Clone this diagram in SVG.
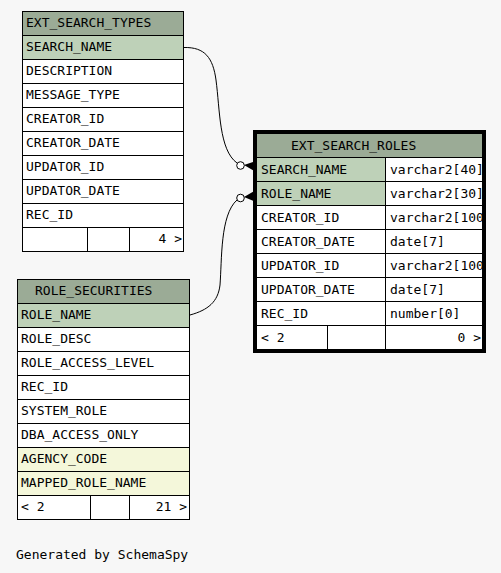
<svg xmlns="http://www.w3.org/2000/svg" width="501" height="573" viewBox="0 0 501 573">
<style>
text{font-family:"DejaVu Sans Mono","Liberation Mono",monospace;font-size:13px;fill:#000}
.hdr{fill:#9bab96}
.key{fill:#bed1b8}
.idx{fill:#f4f7da}
.col{fill:#ffffff}
.ln{stroke:#000;stroke-width:1;fill:none}
.end{text-anchor:end}
.edge{stroke:#000;stroke-width:1;fill:none}
</style>
<defs>
<clipPath id="typeclip"><rect x="386" y="157" width="96" height="168"/></clipPath>
</defs>
<rect x="0" y="0" width="501" height="573" fill="#f7f7f7"/>

<g id="connectors">
<path class="edge" d="M184,47.5 C205,47 213,58 216,80 C220,110 219,150 237,163"/>
<circle cx="240.5" cy="165.5" r="3.8" fill="#fff" stroke="#000" stroke-width="1"/>
<polygon points="244,165 256,161 253,166 256,172" fill="#000"/>
<path class="edge" d="M190,315 C208,310 218,302 220,285 C222,260 220,215 237,200"/>
<circle cx="240.5" cy="198" r="3.8" fill="#fff" stroke="#000" stroke-width="1"/>
<polygon points="244,197 256,190 253,196 256,202" fill="#000"/>
</g>

<g id="EXT_SEARCH_TYPES">
<rect class="hdr" x="22" y="11" width="161" height="24"/>
<rect class="key" x="22" y="35" width="161" height="24"/>
<rect class="col" x="22" y="59" width="161" height="192"/>
<rect class="ln" x="22.5" y="11.5" width="161" height="240"/>
<path class="ln" d="M22,35.5H184M22,59.5H184M22,83.5H184M22,107.5H184M22,131.5H184M22,155.5H184M22,179.5H184M22,203.5H184M22,227.5H184M87.5,227V251M129.5,227V251"/>
<text x="26" y="27">EXT_SEARCH_TYPES</text>
<text x="26" y="51">SEARCH_NAME</text>
<text x="26" y="75">DESCRIPTION</text>
<text x="26" y="99">MESSAGE_TYPE</text>
<text x="26" y="123">CREATOR_ID</text>
<text x="26" y="147">CREATOR_DATE</text>
<text x="26" y="171">UPDATOR_ID</text>
<text x="26" y="195">UPDATOR_DATE</text>
<text x="26" y="219">REC_ID</text>
<text class="end" x="182" y="243">4 &gt;</text>
</g>

<g id="ROLE_SECURITIES">
<rect class="hdr" x="17" y="279" width="172" height="24"/>
<rect class="key" x="17" y="303" width="172" height="24"/>
<rect class="col" x="17" y="327" width="172" height="120"/>
<rect class="idx" x="17" y="447" width="172" height="48"/>
<rect class="col" x="17" y="495" width="172" height="24"/>
<rect class="ln" x="17.5" y="279.5" width="172" height="240"/>
<path class="ln" d="M17,303.5H190M17,327.5H190M17,351.5H190M17,375.5H190M17,399.5H190M17,423.5H190M17,447.5H190M17,471.5H190M17,495.5H190M90.5,495V519M129.5,495V519"/>
<text x="35" y="295">ROLE_SECURITIES</text>
<text x="21" y="319">ROLE_NAME</text>
<text x="21" y="343">ROLE_DESC</text>
<text x="21" y="367">ROLE_ACCESS_LEVEL</text>
<text x="21" y="391">REC_ID</text>
<text x="21" y="415">SYSTEM_ROLE</text>
<text x="21" y="439">DBA_ACCESS_ONLY</text>
<text x="21" y="463">AGENCY_CODE</text>
<text x="21" y="487">MAPPED_ROLE_NAME</text>
<text x="21" y="511">&lt; 2</text>
<text class="end" x="187" y="511">21 &gt;</text>
</g>

<g id="EXT_SEARCH_ROLES">
<rect class="hdr" x="257" y="133" width="225" height="24"/>
<rect class="key" x="257" y="157" width="129" height="48"/>
<rect class="col" x="386" y="157" width="96" height="48"/>
<rect class="col" x="257" y="205" width="225" height="144"/>
<path class="ln" d="M257,157.5H482M257,181.5H482M257,205.5H482M257,229.5H482M257,253.5H482M257,277.5H482M257,301.5H482M257,325.5H482M385.5,157V349M327.5,325V349"/>
<text x="291" y="150">EXT_SEARCH_ROLES</text>
<text x="261" y="174">SEARCH_NAME</text>
<text x="261" y="198">ROLE_NAME</text>
<text x="261" y="222">CREATOR_ID</text>
<text x="261" y="246">CREATOR_DATE</text>
<text x="261" y="270">UPDATOR_ID</text>
<text x="261" y="294">UPDATOR_DATE</text>
<text x="261" y="318">REC_ID</text>
<g clip-path="url(#typeclip)">
<text x="390" y="174">varchar2[40]</text>
<text x="390" y="198">varchar2[30]</text>
<text x="390" y="222">varchar2[100]</text>
<text x="390" y="246">date[7]</text>
<text x="390" y="270">varchar2[100]</text>
<text x="390" y="294">date[7]</text>
<text x="390" y="318">number[0]</text>
</g>
<text x="261" y="342">&lt; 2</text>
<text class="end" x="481" y="342">0 &gt;</text>
<rect x="255" y="132" width="229" height="219" fill="none" stroke="#000" stroke-width="4"/>
</g>

<text x="16" y="559">Generated by SchemaSpy</text>
</svg>
